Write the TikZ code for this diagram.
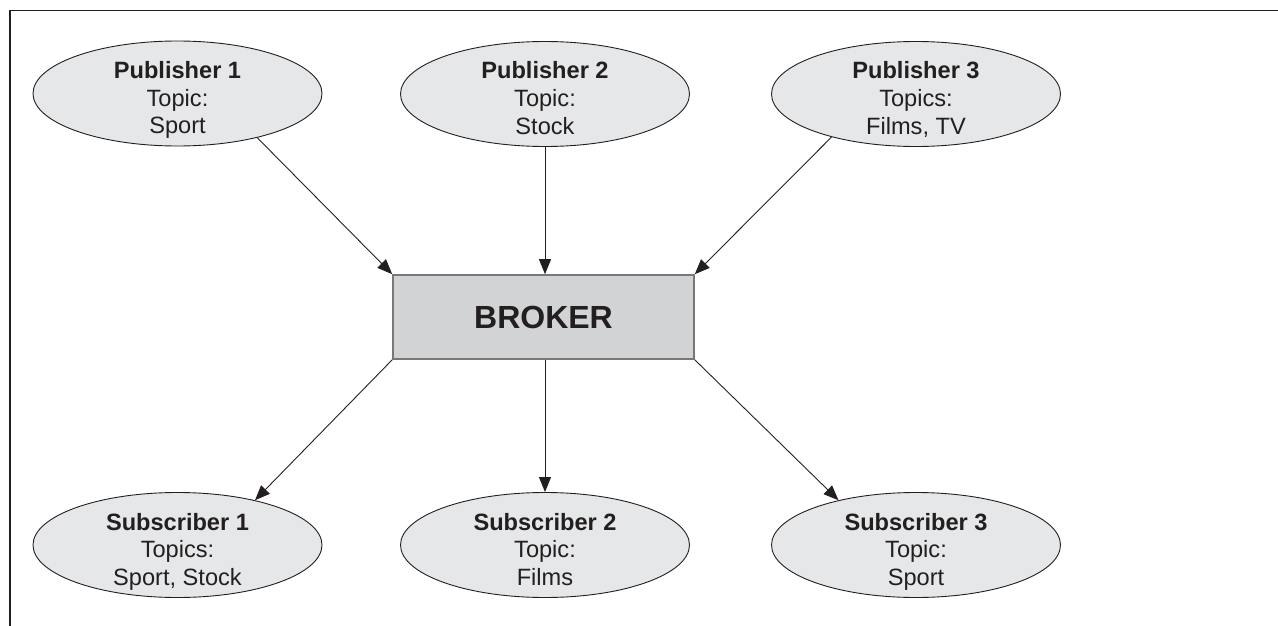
\documentclass[tikz,border=0pt]{standalone}
\usepackage{fontspec}
\setmainfont{Liberation Sans}
\usetikzlibrary{shapes.geometric,arrows.meta}
\definecolor{ink}{RGB}{35,31,32}
\definecolor{ellfill}{RGB}{230,231,232}
\definecolor{boxfill}{RGB}{209,211,212}
\definecolor{boxline}{RGB}{120,120,122}
\newcommand{\toprl}{\rule{0pt}{31pt}}
\newcommand{\botrl}{\rule[-6pt]{0pt}{6pt}}
\tikzset{
  roleell/.style={ellipse, draw=ink, line width=0.9pt, fill=ellfill, minimum width=289pt, minimum height=105pt, inner sep=0pt},
  roletext/.style={inner sep=0pt, align=center, text=ink, font=\fontsize{23.6}{27.5}\selectfont},
  brokerbox/.style={rectangle, draw=boxline, line width=1.6pt, fill=boxfill, minimum width=301pt, minimum height=84pt, inner sep=0pt, text=ink, font=\fontsize{32}{34}\selectfont\bfseries},
  conn/.style={draw=ink, line width=0.9pt, -{Triangle[length=15pt,width=12pt]}},
  framestyle/.style={draw=ink, line width=1.5pt}
}
\begin{document}
\begin{tikzpicture}[x=1pt,y=-1pt]
\useasboundingbox (0,0) rectangle (1278,626);
\draw[framestyle] (10,626) -- (10,10.5) -- (1278,10.5);

\node[roleell, label={[roletext]center:{\toprl\textbf{Publisher 1}\\Topic:\\Sport\botrl}}] (p1) at (177.5,93.5) {};
\node[roleell, label={[roletext]center:{\toprl\textbf{Publisher 2}\\Topic:\\Stock\botrl}}] (p2) at (545,94) {};
\node[roleell, label={[roletext]center:{\toprl\textbf{Publisher 3}\\Topics:\\Films, TV\botrl}}] (p3) at (916,94) {};

\node[brokerbox] (b) at (543.5,317) {BROKER};

\node[roleell, label={[roletext]center:{\toprl\textbf{Subscriber 1}\\Topics:\\Sport, Stock\botrl}}] (s1) at (177.5,545) {};
\node[roleell, label={[roletext]center:{\toprl\textbf{Subscriber 2}\\Topic:\\Films\botrl}}] (s2) at (545,545) {};
\node[roleell, label={[roletext]center:{\toprl\textbf{Subscriber 3}\\Topic:\\Sport\botrl}}] (s3) at (916,545) {};

\draw[conn] (p1.-29) -- (b.north west);
\draw[conn] (p2.south) -- (p2.south |- b.north);
\draw[conn] (p3.-153) -- (b.north east);
\draw[conn] (b.south west) -- (s1.30);
\draw[conn] (s2.north |- b.south) -- (s2.north);
\draw[conn] (b.south east) -- (s3.150);
\end{tikzpicture}
\end{document}
